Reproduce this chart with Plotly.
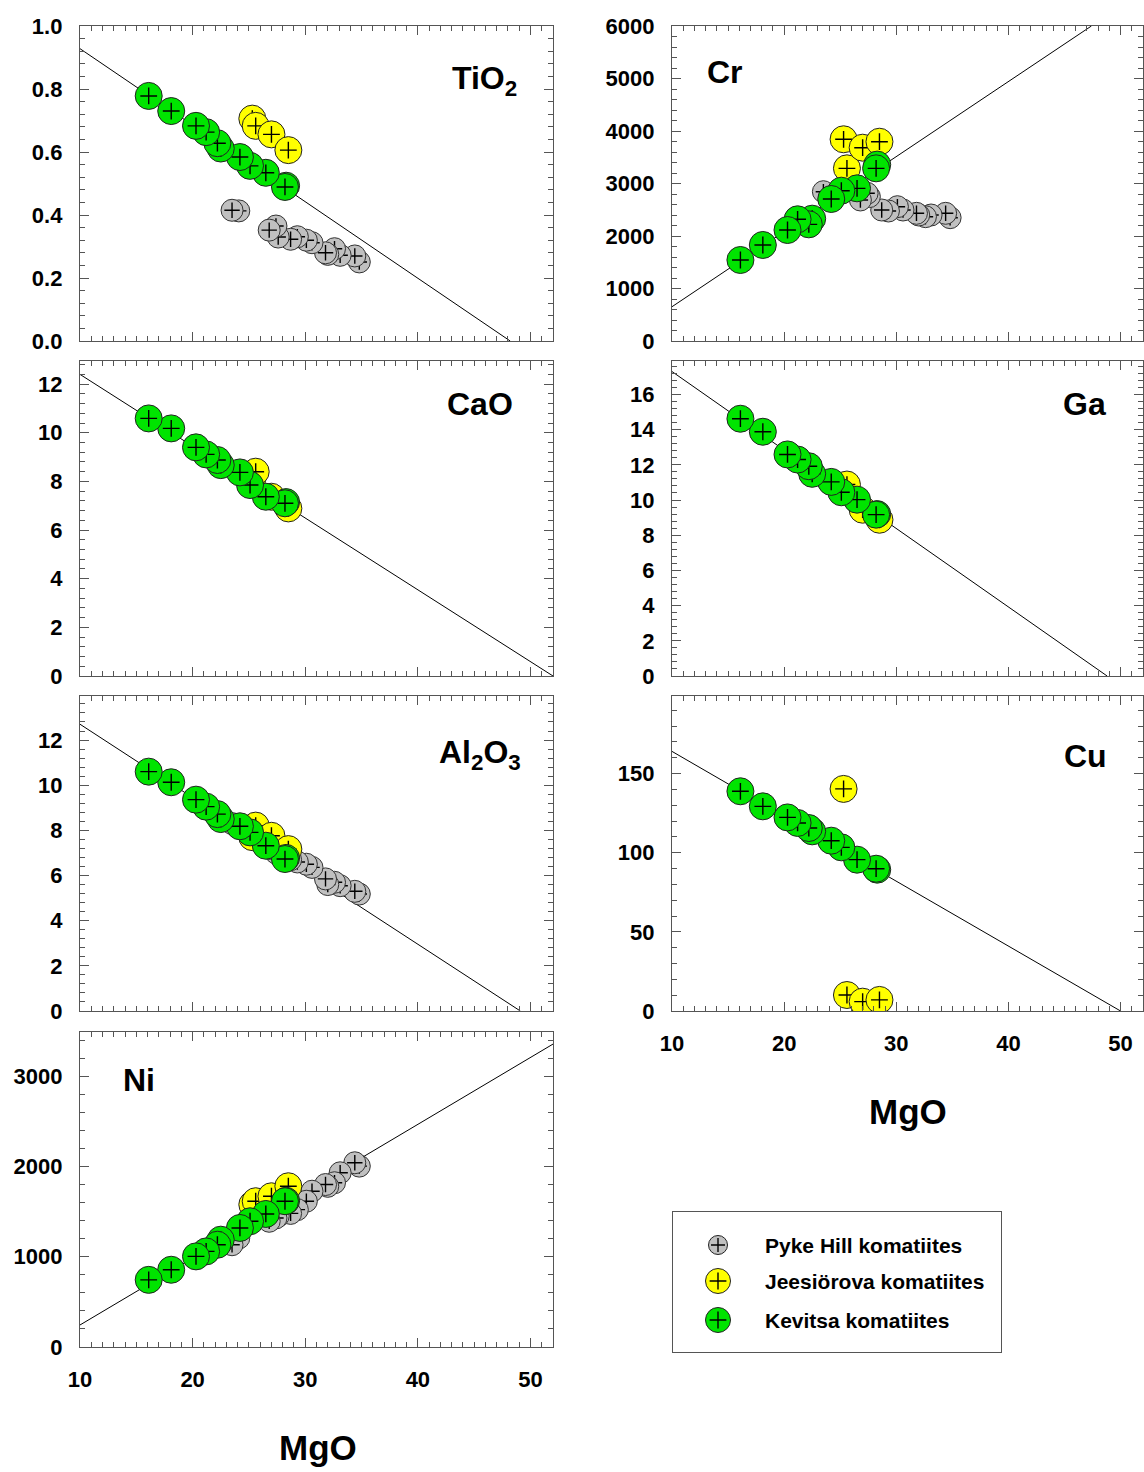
import plotly.graph_objects as go

# ---------------- data ----------------
# Kevitsa komatiites (green)
kev_mgo = [16.1, 18.1, 20.3, 21.2, 22.2, 22.5, 24.2, 25.1, 26.5, 28.2, 28.3]
kev_tio2 = [0.778, 0.730, 0.683, 0.663, 0.628, 0.611, 0.584, 0.556, 0.534, 0.489, 0.493]
kev_cr = [1543, 1829, 2114, 2318, 2222, 2330, 2705, 2863, 2908, 3289, 3360]
kev_cao = [10.59, 10.18, 9.40, 9.11, 8.88, 8.67, 8.37, 7.85, 7.37, 7.10, 7.15]
kev_ga = [14.62, 13.88, 12.59, 12.30, 11.92, 11.49, 11.03, 10.44, 10.02, 9.17, 9.20]
kev_al2o3 = [10.60, 10.13, 9.36, 9.05, 8.72, 8.50, 8.18, 7.91, 7.32, 6.73, 6.78]
kev_cu = [138.8, 129.3, 122.3, 118.8, 115.6, 113.5, 107.6, 103.4, 95.6, 89.9, 89.3]
kev_ni = [744, 856, 1004, 1059, 1133, 1189, 1319, 1393, 1474, 1615, 1620]

# Jeesiörova komatiites (yellow)
jee_mgo = [25.3, 25.6, 27.0, 28.5]
jee_tio2 = [0.706, 0.683, 0.656, 0.606]
jee_cr = [3842, 3289, 3682, 3796]
jee_cao = [8.1, 8.40, 7.37, 6.89]
jee_ga = [10.6, 10.88, 9.45, 8.88]
jee_al2o3 = [7.7, 8.21, 7.76, 7.17]
jee_cu = [140.3, 10.1, 5.9, 7.0]
jee_ni = [1578, 1615, 1670, 1781]

# Pyke Hill komatiites (grey)
pyk_mgo = [23.5, 24.1, 26.8, 27.4, 27.6, 28.7, 29.3, 30.1, 30.6, 31.8, 32.0, 32.6, 33.1, 34.4, 34.8]
pyk_tio2 = [0.415, 0.413, 0.352, 0.365, 0.330, 0.323, 0.331, 0.320, 0.312, 0.280, 0.275, 0.293, 0.272, 0.270, 0.251]
pyk_cr = [2844, 2749, 2686, 2813, 2750, 2495, 2476, 2558, 2495, 2432, 2400, 2368, 2400, 2432, 2349]
pyk_al2o3 = [8.3, 8.1, 7.2, 7.0, 6.95, 6.7, 6.6, 6.5, 6.36, 5.85, 5.6, 5.7, 5.55, 5.3, 5.18]
pyk_ni = [1133, 1207, 1393, 1430, 1450, 1480, 1522, 1615, 1726, 1800, 1780, 1820, 1930, 2041, 2004]

# regression lines (MgO endpoints, oxide/element endpoints)
line_mgo = {"TiO2": [10, 48.2], "Cr": [10, 47.4], "CaO": [10, 52], "Ga": [10, 48.8],
            "Al2O3": [10, 49.1], "Cu": [10, 50.0], "Ni": [10, 52]}
line_val = {"TiO2": [0.928, 0], "Cr": [653, 6000], "CaO": [12.4, 0], "Ga": [17.3, 0],
            "Al2O3": [12.7, 0], "Cu": [164, 0], "Ni": [244, 3356]}

# ---------------- layout helpers ----------------
W, H = 1144, 1472
FONT = "Liberation Sans, Arial, sans-serif"
AX = "#555555"
GREEN, YELLOW, GREY = "#00e400", "#ffff00", "#c0c0c0"

left_x = (80, 553)
right_x = (672, 1143)
rows = [(26, 341), (361, 676), (696, 1011), (1032, 1347)]


def xd(px):
    return [px[0] / W, px[1] / W]


def yd(py):
    return [1 - py[1] / H, 1 - py[0] / H]


panels = [
    dict(key="TiO2", i=1, xp=left_x, row=0, yr=[0, 1.0], dt=0.2, mdt=0.04, fmt=".1f",
         label="TiO<sub>2</sub>", lp=(484, 80), xl=False,
         k=kev_tio2, j=jee_tio2, p=pyk_tio2),
    dict(key="Cr", i=2, xp=right_x, row=0, yr=[0, 6000], dt=1000, mdt=200, fmt="d",
         label="Cr", lp=(725, 72), xl=False, k=kev_cr, j=jee_cr, p=pyk_cr),
    dict(key="CaO", i=3, xp=left_x, row=1, yr=[0, 12.95], dt=2, mdt=0.4, fmt="d",
         label="CaO", lp=(480, 404), xl=False, k=kev_cao, j=jee_cao, p=None),
    dict(key="Ga", i=4, xp=right_x, row=1, yr=[0, 17.9], dt=2, mdt=0.4, fmt="d",
         label="Ga", lp=(1084, 404), xl=False, k=kev_ga, j=jee_ga, p=None),
    dict(key="Al2O3", i=5, xp=left_x, row=2, yr=[0, 13.95], dt=2, mdt=0.4, fmt="d",
         label="Al<sub>2</sub>O<sub>3</sub>", lp=(480, 754), xl=False,
         k=kev_al2o3, j=jee_al2o3, p=pyk_al2o3),
    dict(key="Cu", i=6, xp=right_x, row=2, yr=[0, 199], dt=50, mdt=10, fmt="d",
         label="Cu", lp=(1085, 756), xl=True, k=kev_cu, j=jee_cu, p=None),
    dict(key="Ni", i=7, xp=left_x, row=3, yr=[0, 3490], dt=1000, mdt=200, fmt="d",
         label="Ni", lp=(139, 1080), xl=True, k=kev_ni, j=jee_ni, p=pyk_ni),
]

fig = go.Figure()
annotations = []
layout = dict(width=W, height=H, margin=dict(l=0, r=0, t=0, b=0, autoexpand=False),
              paper_bgcolor="white", plot_bgcolor="white", showlegend=False,
              font=dict(family=FONT, size=22, color="black"))


def add_group(xa, ya, xs, ys, fill, size, csize, lcol, reverse):
    # each sample drawn as its own circle + cross so overlapping circles hide crosses
    idx = list(range(len(xs)))
    if reverse:
        idx = idx[::-1]
    for n in idx:
        fig.add_trace(go.Scatter(x=[xs[n]], y=[ys[n]], mode="markers", xaxis=xa, yaxis=ya,
                                 marker=dict(size=size, color=fill, line=dict(color=lcol, width=1)),
                                 hoverinfo="x+y"))
        fig.add_trace(go.Scatter(x=[xs[n]], y=[ys[n]], mode="markers", xaxis=xa, yaxis=ya,
                                 marker=dict(size=csize, symbol="cross-thin", color="black",
                                             line=dict(color="black", width=1.4)),
                                 hoverinfo="skip"))


for p in panels:
    i = p["i"]
    xa, ya = f"x{i}", f"y{i}"
    xk, yk = f"xaxis{i}", f"yaxis{i}"
    layout[xk] = dict(domain=xd(p["xp"]), range=[10, 52], anchor=ya, automargin=False,
                      showline=True, linecolor=AX, linewidth=1.3, mirror="allticks",
                      ticks="inside", ticklen=9, tickwidth=1.2, tickcolor=AX,
                      tick0=0, dtick=10, showgrid=False, zeroline=False,
                      showticklabels=p["xl"], ticklabelstandoff=12,
                      tickfont=dict(family=FONT, size=22, weight="bold"),
                      minor=dict(dtick=1, tick0=0, ticks="inside", ticklen=5,
                                 tickcolor=AX, tickwidth=1, showgrid=False))
    layout[yk] = dict(domain=yd(rows[p["row"]]), range=p["yr"], anchor=xa, automargin=False,
                      showline=True, linecolor=AX, linewidth=1.3, mirror="allticks",
                      ticks="inside", ticklen=9, tickwidth=1.2, tickcolor=AX,
                      tick0=0, dtick=p["dt"], showgrid=False, zeroline=False,
                      tickformat=p["fmt"], ticklabelstandoff=12,
                      tickfont=dict(family=FONT, size=22, weight="bold"),
                      minor=dict(dtick=p["mdt"], tick0=0, ticks="inside", ticklen=5,
                                 tickcolor=AX, tickwidth=1, showgrid=False))
    fig.add_trace(go.Scatter(x=line_mgo[p["key"]], y=line_val[p["key"]], mode="lines",
                             xaxis=xa, yaxis=ya, line=dict(color="black", width=1),
                             hoverinfo="skip"))
    if p["p"] is not None:
        add_group(xa, ya, pyk_mgo, p["p"], GREY, 22, 11, "#333333", True)
    add_group(xa, ya, jee_mgo, p["j"], YELLOW, 27, 12, "#222222", False)
    add_group(xa, ya, kev_mgo, p["k"], GREEN, 27, 12, "#222222", True)

    annotations.append(dict(text=p["label"], xref="paper", yref="paper",
                            x=p["lp"][0] / W, y=1 - p["lp"][1] / H,
                            xanchor="center", yanchor="middle", showarrow=False,
                            font=dict(family=FONT, size=32, weight="bold", color="black")))

for cx, cy in [(318, 1447), (908, 1111)]:
    annotations.append(dict(text="MgO", xref="paper", yref="paper", x=cx / W, y=1 - cy / H,
                            xanchor="center", yanchor="middle", showarrow=False,
                            font=dict(family=FONT, size=35, weight="bold", color="black")))

# ---------------- legend (drawn in its own frame) ----------------
leg_names = ["Pyke Hill komatiites", "Jeesiörova komatiites", "Kevitsa komatiites"]
leg_colors = [GREY, YELLOW, GREEN]
leg_sizes = [19, 25, 25]
leg_rows = [1245, 1281, 1320]
layout["xaxis8"] = dict(domain=[673 / W, 1001 / W], range=[673, 1001], anchor="y8",
                        automargin=False,
                        showline=True, mirror=True, linecolor=AX, linewidth=1.3,
                        showticklabels=False, ticks="", showgrid=False, zeroline=False,
                        fixedrange=True)
layout["yaxis8"] = dict(domain=[1 - 1352 / H, 1 - 1212 / H], range=[1352, 1212], anchor="x8",
                        automargin=False,
                        showline=True, mirror=True, linecolor=AX, linewidth=1.3,
                        showticklabels=False, ticks="", showgrid=False, zeroline=False,
                        fixedrange=True)
for name, col, sz, ry in zip(leg_names, leg_colors, leg_sizes, leg_rows):
    fig.add_trace(go.Scatter(x=[718], y=[ry], mode="markers", xaxis="x8", yaxis="y8",
                             marker=dict(size=sz, color=col, line=dict(color="#222222", width=1)),
                             hoverinfo="skip"))
    fig.add_trace(go.Scatter(x=[718], y=[ry], mode="markers", xaxis="x8", yaxis="y8",
                             marker=dict(size=10 if sz < 20 else 12, symbol="cross-thin",
                                         line=dict(color="black", width=1.4)),
                             hoverinfo="skip"))
    annotations.append(dict(text=name, xref="x8", yref="y8", x=763, y=ry,
                            xanchor="left", yanchor="middle", showarrow=False,
                            font=dict(family=FONT, size=21, weight="bold", color="black")))

layout["annotations"] = annotations
fig.update_layout(**layout)
fig.write_html("out.html")
